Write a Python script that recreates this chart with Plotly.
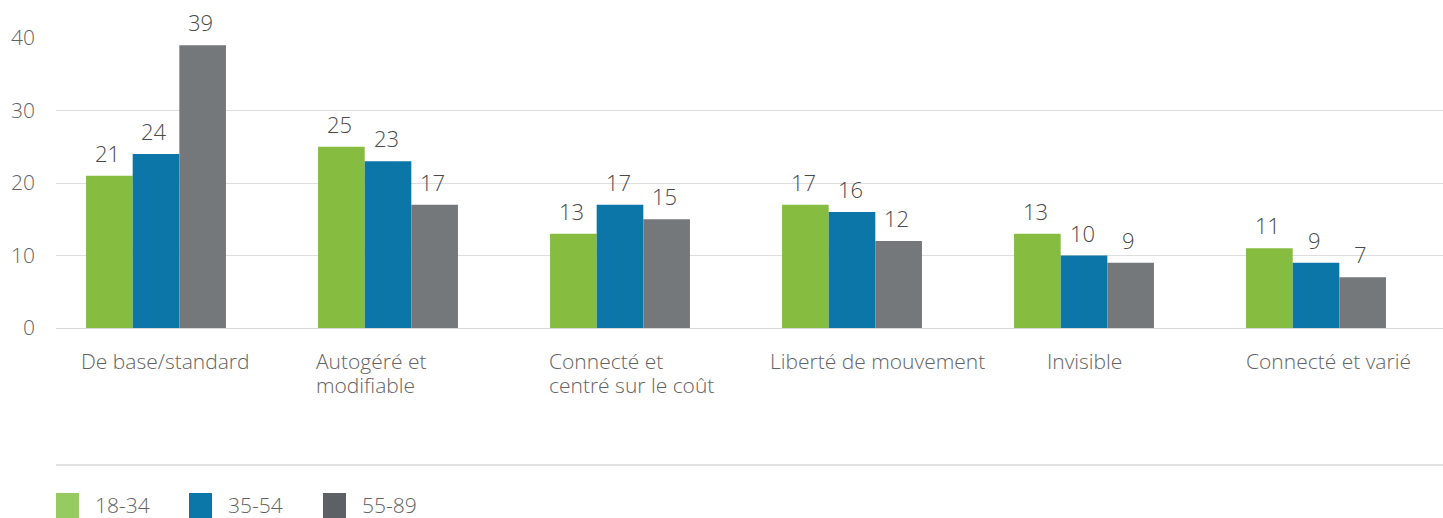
import plotly.graph_objects as go

categories = ["De base/standard", "Autogéré et<br>modifiable", "Connecté et<br>centré sur le coût",
              "Liberté de mouvement", "Invisible", "Connecté et varié"]
series_names = ["18-34", "35-54", "55-89"]
values_18_34 = [21, 25, 13, 17, 13, 11]
values_35_54 = [24, 23, 17, 16, 10, 9]
values_55_89 = [39, 17, 15, 12, 9, 7]
y_ticks = [0, 10, 20, 30, 40]

series_values = [values_18_34, values_35_54, values_55_89]
bar_colors = ["#86bc40", "#0d76a8", "#75787b"]
legend_colors = ["#97cb62", "#0b76a8", "#5d6166"]

FONT = "Open Sans"
TXT = "#636363"
VAL_TXT = "#4a4a4a"

W, H = 1443, 518
L, R, T, B = 56, 0, 38, 190
plot_w = W - L - R
plot_h = H - T - B
cat_px = 232.0
x_start = -(156 - L) / cat_px
x_end = x_start + plot_w / cat_px
bargap = 0.397
bar_px = cat_px * (1 - bargap) / 3

fig = go.Figure()
for i, (name, vals) in enumerate(zip(series_names, series_values)):
    fig.add_trace(go.Bar(
        x=categories, y=vals, name=name, marker=dict(color=bar_colors[i], line=dict(width=0)),
        showlegend=False, hoverinfo="skip",
    ))

annotations = []
# value labels
for i, vals in enumerate(series_values):
    for c, v in zip(categories, vals):
        annotations.append(dict(
            x=c, y=v, xref="x", yref="y", text=str(v), showarrow=False,
            xanchor="center", yanchor="middle", xshift=(i - 1) * bar_px - 2, yshift=23,
            font=dict(family=FONT, size=22, color=VAL_TXT, weight=300),
        ))

# category labels (left-aligned blocks, one annotation per line)
label_left = [81, 316, 549, 770, 1047, 1246]
for c, lx in zip(categories, label_left):
    for k, line in enumerate(c.split("<br>")):
        annotations.append(dict(
            x=(lx - L) / plot_w, y=0, xref="paper", yref="paper", text=line, showarrow=False,
            xanchor="left", yanchor="middle", xshift=-2, yshift=-(33 + 24 * k),
            font=dict(family=FONT, size=21, color=TXT, weight=300),
        ))

def px_x(p):
    return (p - L) / plot_w

def px_y(p):
    return (H - B - p) / plot_h

shapes = [dict(type="line", xref="paper", yref="paper", x0=0, x1=1,
               y0=px_y(465), y1=px_y(465), line=dict(color="#e2e2e2", width=2))]

# legend
leg_x = [56, 189, 323]
for i, name in enumerate(series_names):
    x0 = leg_x[i]
    shapes.append(dict(type="rect", xref="paper", yref="paper",
                       x0=px_x(x0), x1=px_x(x0 + 23), y0=px_y(518), y1=px_y(493),
                       fillcolor=legend_colors[i], line=dict(width=0)))
    annotations.append(dict(
        x=px_x(x0 + 37), y=px_y(505), xref="paper", yref="paper", text=name,
        showarrow=False, xanchor="left", yanchor="middle",
        font=dict(family=FONT, size=21, color=TXT, weight=300),
    ))

fig.update_layout(
    width=W, height=H,
    margin=dict(l=L, r=R, t=T, b=B, pad=0),
    paper_bgcolor="white", plot_bgcolor="white",
    barmode="group", bargap=bargap, bargroupgap=0,
    showlegend=False,
    xaxis=dict(range=[x_start, x_end], showticklabels=False, showgrid=False,
               zeroline=False, showline=False, ticks=""),
    yaxis=dict(range=[0, 40], tickvals=y_ticks, showgrid=True, gridcolor="#dedede", gridwidth=1,
               zeroline=True, zerolinecolor="#d8d8d8", zerolinewidth=1, showline=False,
               ticks="", ticklabelstandoff=20,
               tickfont=dict(family=FONT, size=21, color=TXT, weight=300)),
    annotations=annotations, shapes=shapes,
)

fig.write_html("out.html", config={"displayModeBar": False},
               post_script="document.body.style.margin='0';document.body.style.overflow='hidden';")
